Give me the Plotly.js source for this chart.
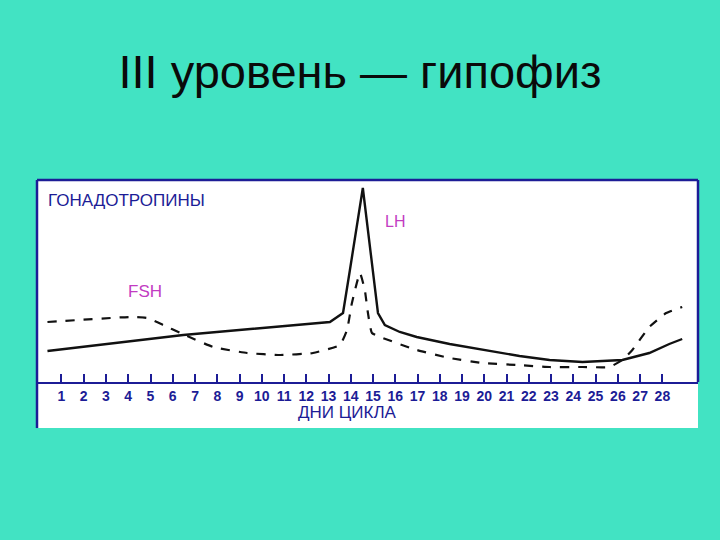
<!DOCTYPE html>
<html>
<head>
<meta charset="utf-8">
<script src="https://cdn.plot.ly/plotly-3.0.1.min.js"></script>
<style>html,body{margin:0;padding:0;background:#42E3C3;}#chart{width:720px;height:540px;}</style>
</head>
<body>
<div id="chart"></div>
<script>
// Days of the cycle (tick labels)
const dayTicks = [1,2,3,4,5,6,7,8,9,10,11,12,13,14,15,16,17,18,19,20,21,22,23,24,25,26,27,28];

// LH (solid line) — relative level
const lhDays = [0.37, 6.47, 13.06, 13.65, 13.96, 14.54, 15.22, 15.53, 16.2, 16.96, 18.44, 19.92, 21.58, 22.93, 24.41, 26.2, 27.41, 28.31, 28.89];
const lhVals = [15.5, 23.5, 30, 34.5, 56, 97, 34.5, 28.5, 25, 22.5, 19, 16, 13, 11, 10, 11, 14.5, 19, 21.5];

// FSH (dashed line)
const fshDays = [0.37, 4.09, 4.86, 5.57, 6.34, 7.82, 9.34, 10.82, 12.3, 13.51, 13.83, 14.05, 14.41, 14.63, 14.77, 14.95, 15.44, 16.96, 18.44, 19.92, 21.45, 22.93, 24.41, 25.62, 26.2, 26.65, 27.41, 28.17, 28.89];
const fshVals = [30, 32.5, 32, 28.5, 24.5, 17.5, 14.5, 13.5, 14.5, 18.5, 26, 39.5, 54.5, 46, 34.5, 24.5, 22, 16, 12, 9.5, 8.5, 7.5, 7.5, 7.5, 11, 16, 27.5, 34.5, 37.5];

const blue = '#1c1c96';
const magenta = '#c23cc2';
const font = 'Liberation Sans, Arial, sans-serif';

const traces = [
  {x: fshDays, y: fshVals, type: 'scatter', mode: 'lines', name: 'FSH',
   line: {color: '#111', width: 2.2, dash: 'dash', shape: 'spline', smoothing: 0.4}},
  {x: lhDays, y: lhVals, type: 'scatter', mode: 'lines', name: 'LH',
   line: {color: '#111', width: 2.4, shape: 'linear'}}
];

const layout = {
  width: 720, height: 540,
  paper_bgcolor: '#42E3C3',
  plot_bgcolor: '#ffffff',
  margin: {l: 37, r: 22, t: 180, b: 158},
  showlegend: false,
  title: {text: 'III уровень — гипофиз', x: 0.5, xanchor: 'center',
          y: 0.868, yref: 'container', yanchor: 'middle',
          font: {family: font, size: 47, color: '#0a0a0a'}},
  xaxis: {
    range: [-0.1, 29.6], tickmode: 'array', tickvals: dayTicks, ticktext: dayTicks.map(String),
    showgrid: false, zeroline: false, showline: true, linecolor: blue, linewidth: 2,
    ticks: 'inside', ticklen: 8, tickwidth: 2, tickcolor: blue,
    tickfont: {family: font, size: 14, color: blue, weight: 'bold'}
  },
  yaxis: {range: [0, 101], visible: false, showgrid: false, zeroline: false, fixedrange: true},
  shapes: [
    {type: 'rect', xref: 'paper', yref: 'paper', x0: 0, x1: 1, y0: -0.228, y1: 1,
     fillcolor: '#ffffff', line: {width: 0}, layer: 'below'},
    {type: 'line', xref: 'paper', yref: 'paper', x0: 0, x1: 0, y0: -0.228, y1: 1, line: {color: blue, width: 2.5}},
    {type: 'line', xref: 'paper', yref: 'paper', x0: 0, x1: 1, y0: 1, y1: 1, line: {color: blue, width: 2.5}},
    {type: 'line', xref: 'paper', yref: 'paper', x0: 1, x1: 1, y0: 0, y1: 1, line: {color: blue, width: 2.5}}
  ],
  annotations: [
    {text: 'ГОНАДОТРОПИНЫ', xref: 'paper', yref: 'paper', x: 0.014, y: 0.90, xanchor: 'left', yanchor: 'middle',
     showarrow: false, font: {family: font, size: 17, color: blue}},
    {text: 'FSH', xref: 'paper', yref: 'paper', x: 0.163, y: 0.446, xanchor: 'center', yanchor: 'middle',
     showarrow: false, font: {family: font, size: 17, color: magenta}},
    {text: 'LH', xref: 'paper', yref: 'paper', x: 0.542, y: 0.797, xanchor: 'center', yanchor: 'middle',
     showarrow: false, font: {family: font, size: 16, color: magenta}},
    {text: 'ДНИ ЦИКЛА', xref: 'paper', yref: 'paper', x: 0.47, y: -0.153, xanchor: 'center', yanchor: 'middle',
     showarrow: false, font: {family: font, size: 17, color: blue}}
  ]
};

Plotly.newPlot('chart', traces, layout, {displayModeBar: false, staticPlot: true});
</script>
</body>
</html>
